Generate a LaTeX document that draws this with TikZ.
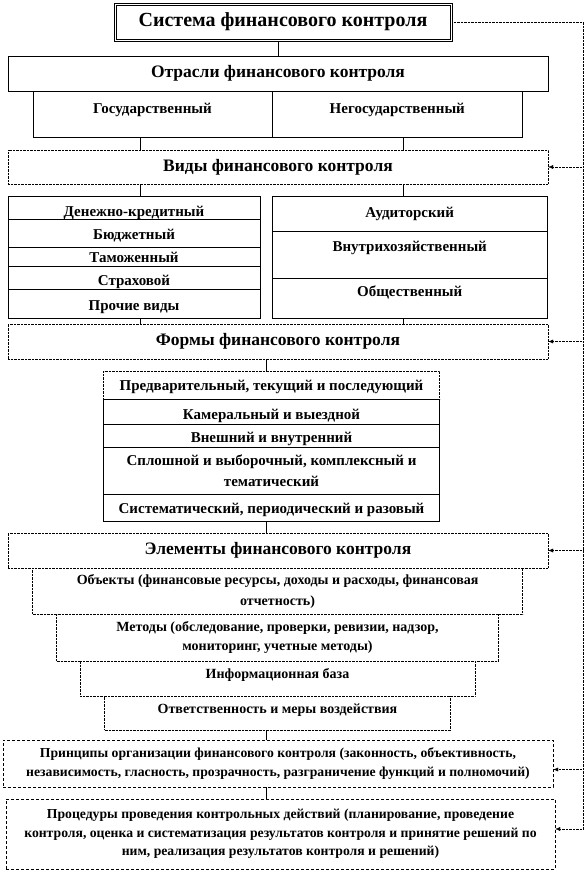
\documentclass[tikz,border=0pt]{standalone}
\usepackage{fontspec}
\setmainfont{Liberation Serif}
\usepackage{tikz}
\usetikzlibrary{arrows.meta, calc}
\tikzset{
	box/.style={
			shape=rectangle,
			draw=black,
			fill=white,
			thin,
			inner sep=0pt,
			align=center,
			font=\bfseries\fontsize{14}{19}\selectfont
		},
	cell/.style={
			box,
			font=\bfseries\fontsize{15}{22}\selectfont
		},
	longbox/.style={
			box,
			densely dashed,
			font=\bfseries\fontsize{13.7}{18.5}\selectfont
		},
	headbox/.style={
			box,
			font=\bfseries\fontsize{17.5}{21}\selectfont
		},
	titlebox/.style={
			box,
			line width=0.8pt,
			font=\bfseries\fontsize{20}{24}\selectfont
		},
	dotbox/.style={
			box,
			densely dotted
		},
	down/.style={text height=#1, text depth=0pt},
	up/.style={text height=0pt, text depth=#1}
}
\tikzset{
	link/.style={draw=black, thin},
	feedback/.style={draw=black, densely dotted, thin},
	fbarrow/.style={feedback, -{Latex[length=5pt, width=4pt]}}
}
\begin{document}
\begin{tikzpicture}[x=1pt, y=-1pt]

				\useasboundingbox (0,0) rectangle (584,873);

				\node[titlebox, minimum width=338pt, minimum height=38pt] (sys) at (283,22) {Система  финансового контроля};
				\draw[thin] ([shift={(2.6pt,2.6pt)}]sys.south west) rectangle ([shift={(-2.6pt,-2.6pt)}]sys.north east);

				\node[headbox, minimum width=540pt, minimum height=35pt] (otr) at (278,73.5) {Отрасли финансового контроля};
				\node[cell, minimum width=239pt, minimum height=46.7pt, up=2pt] (gos) at (152.5,114.3) {Государственный};
				\node[cell, minimum width=250.5pt, minimum height=46.7pt, up=2pt] (negos) at (397.3,114.3) {Негосударственный};

				\node[dotbox, headbox, minimum width=540pt, minimum height=34pt] (vidy) at (278,167) {Виды финансового контроля};

				\node[cell, minimum width=252pt, minimum height=23pt, down=17pt] (dk) at (134,207.5) {Денежно-кредитный};
				\node[cell, minimum width=252pt, minimum height=28pt, down=12pt] (bud) at (134,233) {Бюджетный};
				\node[cell, minimum width=252pt, minimum height=19pt, down=11pt] (tam) at (134,256.5) {Таможенный};
				\node[cell, minimum width=252pt, minimum height=23pt, down=15pt] (strah) at (134,277.5) {Страховой};
				\node[cell, minimum width=252pt, minimum height=29pt, down=13pt] (proch) at (134,303.5) {Прочие виды};

				\node[cell, minimum width=275.5pt, minimum height=35pt, down=7pt] (aud) at (409.7,213.5) {Аудиторский};
				\node[cell, minimum width=275.5pt, minimum height=47pt, up=5.6pt] (vnu) at (409.7,254.5) {Внутрихозяйственный};
				\node[cell, minimum width=275.5pt, minimum height=40pt, up=2.6pt] (obsh) at (409.7,298) {Общественный};

				\node[dotbox, headbox, minimum width=540pt, minimum height=35pt] (formy) at (278,341.5) {Формы финансового контроля};

				\node[dotbox, cell, minimum width=336pt, minimum height=28pt, down=10pt] (f1) at (271.5,385) {Предварительный, текущий  и последующий};
				\node[cell, minimum width=336pt, minimum height=25pt, down=15pt] (f2) at (271.5,411.5) {Камеральный и выездной};
				\node[cell, minimum width=336pt, minimum height=23pt, down=13pt] (f3) at (271.5,435.5) {Внешний и внутренний};
				\node[cell, minimum width=336pt, minimum height=47pt] (f4) at (271.5,470.5) {Сплошной и выборочный, комплексный и\\[-1pt]тематический};
				\node[cell, minimum width=336pt, minimum height=27pt, down=11pt] (f5) at (271.5,507.5) {Систематический, периодический и разовый};

				\node[dotbox, headbox, minimum width=540pt, minimum height=35pt] (elem) at (278,550.5) {Элементы финансового контроля};
				\node[dotbox, minimum width=490pt, minimum height=46pt] (obj) at (277.6,591) {Объекты (финансовые ресурсы, доходы и расходы, финансовая\\[2pt]отчетность)};
				\node[dotbox, minimum width=442pt, minimum height=47pt] (met) at (277.5,637.5) {Методы (обследование, проверки, ревизии, надзор,\\мониторинг,  учетные методы)};
				\node[dotbox, minimum width=395pt, minimum height=35pt, up=1pt] (inf) at (277.5,678.5) {Информационная  база};
				\node[dotbox, minimum width=346pt, minimum height=34pt, up=0pt] (otv) at (277.5,713) {Ответственность и меры воздействия};

				\node[longbox, minimum width=550pt, minimum height=47pt] (princ) at (278,763.5) {Принципы организации финансового контроля (законность, объективность,\\независимость, гласность, прозрачность, разграничение  функций  и полномочий)};
				\node[longbox, minimum width=549pt, minimum height=70pt] (proc) at (280.5,834) {Процедуры проведения контрольных действий (планирование, проведение\\контроля,  оценка и систематизация результатов контроля и принятие решений по\\ним, реализация результатов контроля и решений)};

				\coordinate (xl) at (140,0);
				\coordinate (xr) at (403,0);
				\coordinate (xm) at (266,0);
				\coordinate (fb) at (583,0);
				\coordinate (princin) at ([yshift=-6pt]princ.east);
				\coordinate (procin) at ([yshift=5pt]proc.east);

				\draw[link] (sys.south -| otr.north) -- (otr.north);
				\draw[link] (gos.south -| xl) -- (vidy.north -| xl);
				\draw[link] (negos.south -| xr) -- (vidy.north -| xr);
				\draw[link] (vidy.south -| xl) -- (dk.north -| xl);
				\draw[link] (vidy.south -| xr) -- (aud.north -| xr);
				\draw[link] (proch.south -| xl) -- (formy.north -| xl);
				\draw[link] (obsh.south -| xr) -- (formy.north -| xr);
				\draw[link] (formy.south -| xm) -- (f1.north -| xm);
				\draw[link] (f5.south -| xm) -- (elem.north -| xm);
				\draw[link] (otv.south -| xm) -- (princ.north -| xm);
				\draw[link] (princ.south -| xm) -- (proc.north -| xm);

				\draw[feedback] (sys.east) -- (fb |- sys.east) -- (fb |- procin);
				\draw[fbarrow] (fb |- vidy.east) -- (vidy.east);
				\draw[fbarrow] (fb |- formy.east) -- (formy.east);
				\draw[fbarrow] (fb |- elem.east) -- (elem.east);
				\draw[fbarrow] (fb |- princin) -- (princin);
				\draw[fbarrow] (fb |- procin) -- (procin);

			\end{tikzpicture}
\end{document}
